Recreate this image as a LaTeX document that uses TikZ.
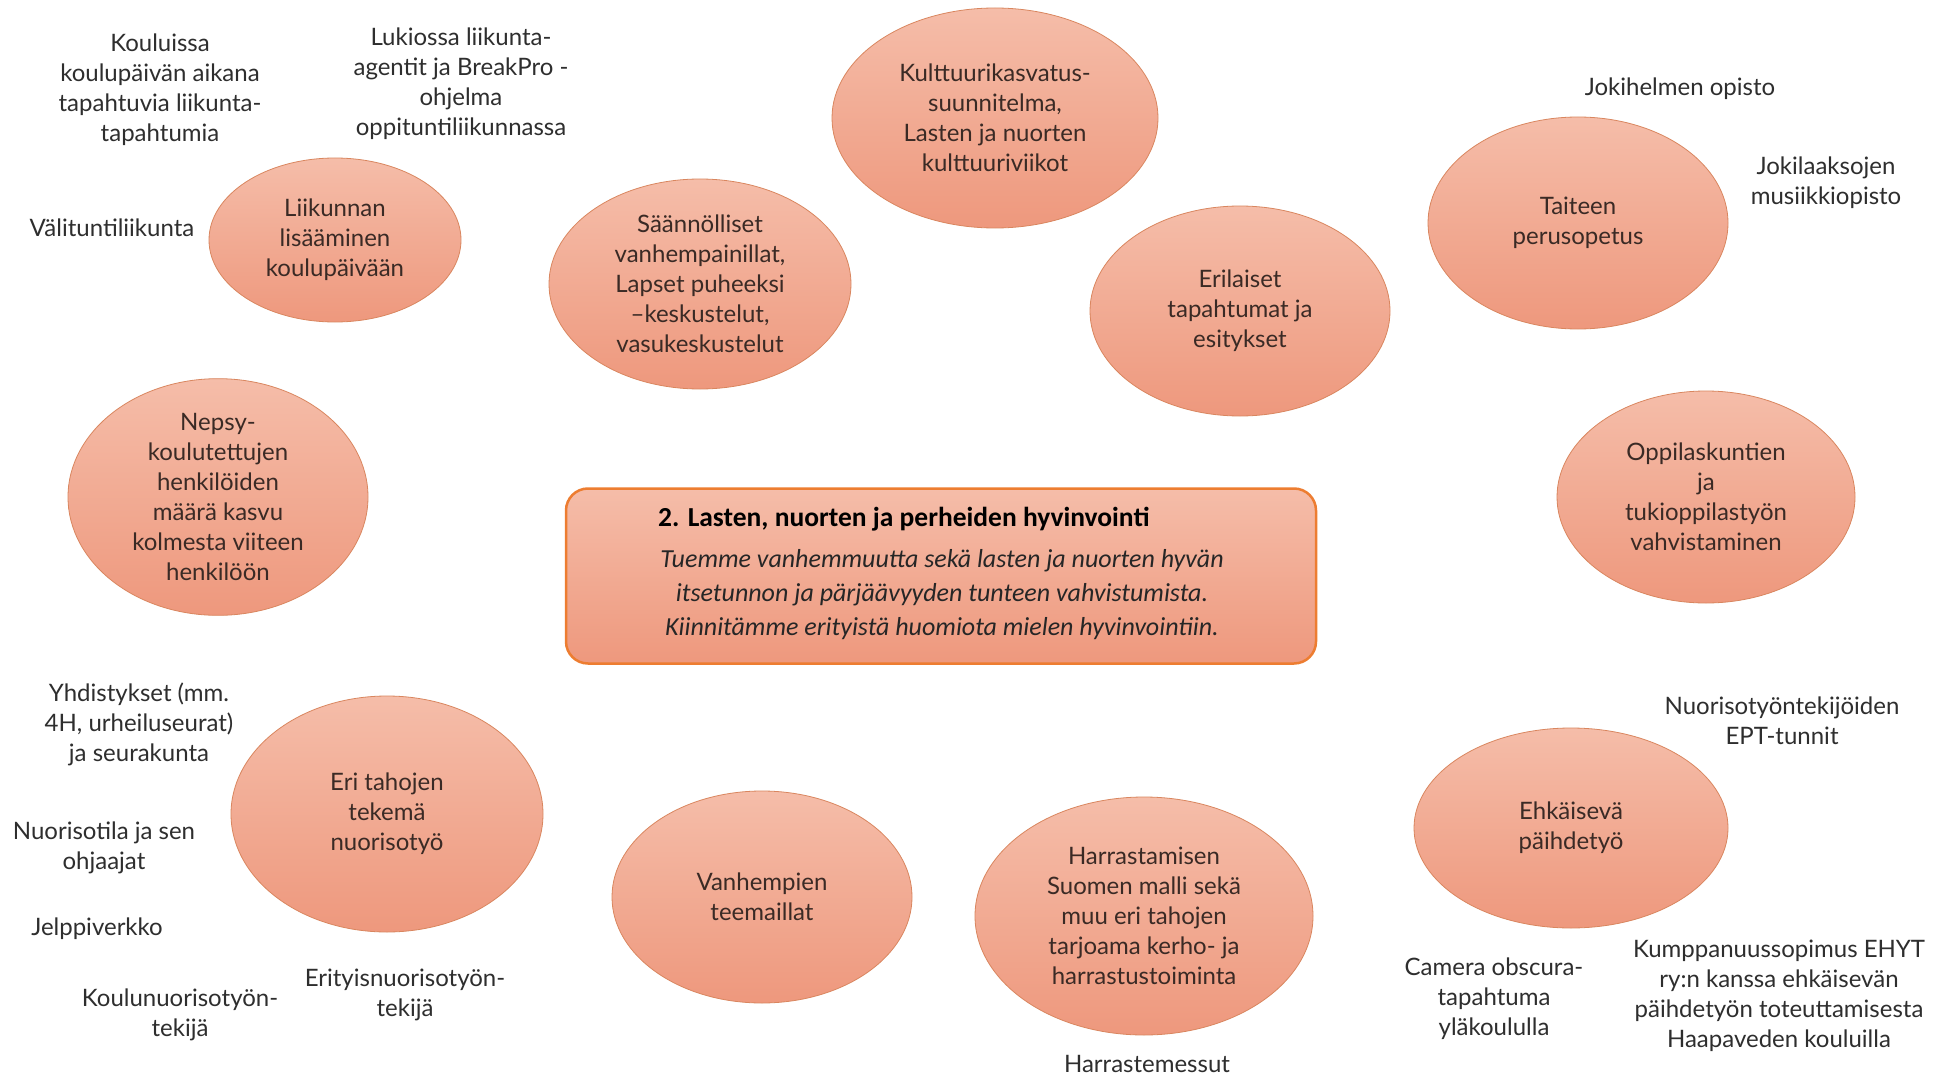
\documentclass[tikz,border=0pt]{standalone}
\usepackage{fontspec}
\setmainfont{Lato}
\newfontfamily\boxfont{Carlito}
\usetikzlibrary{shapes.geometric}
\definecolor{elltop}{HTML}{F5BDA9}
\definecolor{ellbot}{HTML}{EE987D}
\definecolor{ellline}{HTML}{D9865F}
\definecolor{elltext}{HTML}{3A2A25}
\definecolor{labtext}{HTML}{2E2E2E}
\definecolor{boxline}{HTML}{ED7D31}
\tikzset{
  bub/.style={ellipse, draw=ellline, line width=0.8pt, top color=elltop, bottom color=ellbot,
    inner sep=0pt, align=center, text=elltext, font=\fontsize{24}{30}\selectfont},
  lab/.style={align=center, text=labtext, font=\fontsize{24}{30}\selectfont, inner sep=0pt},
}
\begin{document}
\begin{tikzpicture}[x=1pt,y=-1pt]
\fill[white] (0,0) rectangle (1943,1078);
\useasboundingbox (0,0) rectangle (1943,1078);

% centre box
\node[draw=boxline, line width=2.5pt, rounded corners=22pt, top color=elltop, bottom color=ellbot,
  minimum width=750pt, minimum height=175pt, inner sep=0pt] (center) at (941,576) {};
\node[anchor=west, inner sep=0pt, font=\boxfont\bfseries\fontsize{27.5}{30}\selectfont, text=black] (title) at (658,519) {2. Lasten, nuorten ja perheiden hyvinvointi};
\node[align=center, inner sep=0pt, font=\boxfont\itshape\fontsize{26}{34}\selectfont, text=black!85] (desc) at (942,595)
 {Tuemme vanhemmuutta sekä lasten ja nuorten hyvän\\itsetunnon ja pärjäävyyden tunteen vahvistumista.\\Kiinnitämme erityistä huomiota mielen hyvinvointiin.};

% ellipses
\node[bub, minimum width=252pt, minimum height=164pt] (liik) at (335,240) {Liikunnan\\lisääminen\\koulupäivään};
\node[bub, minimum width=302pt, minimum height=210pt] (saan) at (700,284) {Säännölliset\\vanhempainillat,\\Lapset puheeksi\\–keskustelut,\\vasukeskustelut};
\node[bub, minimum width=326pt, minimum height=220pt] (kult) at (995,118) {Kulttuurikasvatus-\\suunnitelma,\\Lasten ja nuorten\\kulttuuriviikot};
\node[bub, minimum width=300pt, minimum height=210pt] (eril) at (1240,311) {Erilaiset\\tapahtumat ja\\esitykset};
\node[bub, minimum width=300pt, minimum height=212pt] (tait) at (1578,223) {Taiteen\\perusopetus};
\node[bub, minimum width=298pt, minimum height=212pt] (oppi) at (1706,497) {Oppilaskuntien\\ja\\tukioppilastyön\\vahvistaminen};
\node[bub, minimum width=300pt, minimum height=212pt] (neps) at (218,497) {Nepsy-\\koulutettujen\\henkilöiden\\määrä kasvu\\kolmesta viiteen\\henkilöön};
\node[bub, minimum width=312pt, minimum height=236pt] (erit) at (387,814) {Eri tahojen\\tekemä\\nuorisotyö};
\node[bub, minimum width=300pt, minimum height=212pt] (vanh) at (762,897) {Vanhempien\\teemaillat};
\node[bub, minimum width=338pt, minimum height=238pt] (harr) at (1144,916) {Harrastamisen\\Suomen malli sekä\\muu eri tahojen\\tarjoama kerho- ja\\harrastustoiminta};
\node[bub, minimum width=314pt, minimum height=200pt] (ehka) at (1571,828) {Ehkäisevä\\päihdetyö};

% free labels
\node[lab] (l1) at (160,90) {Kouluissa\\koulupäivän aikana\\tapahtuvia liikunta-\\tapahtumia};
\node[lab] (l2) at (461,84) {Lukiossa liikunta-\\agentit ja BreakPro -\\ohjelma\\oppituntiliikunnassa};
\node[lab] (l3) at (112,228) {Välituntiliikunta};
\node[lab] (l4) at (1680,89) {Jokihelmen opisto};
\node[lab] (l5) at (1826,183) {Jokilaaksojen\\musiikkiopisto};
\node[lab] (l6) at (139,724) {Yhdistykset (mm.\\4H, urheiluseurat)\\ja seurakunta};
\node[lab] (l7) at (104,848) {Nuorisotila ja sen\\ohjaajat};
\node[lab] (l8) at (97,929) {Jelppiverkko};
\node[lab] (l9) at (180,1015) {Koulunuorisotyön-\\tekijä};
\node[lab] (l10) at (405,995) {Erityisnuorisotyön-\\tekijä};
\node[lab] (l11) at (1147,1064) {Harrastemessut};
\node[lab] (l12) at (1494,999) {Camera obscura-\\tapahtuma\\yläkoululla};
\node[lab] (l13) at (1779,996) {Kumppanuussopimus EHYT\\ry:n kanssa ehkäisevän\\päihdetyön toteuttamisesta\\Haapaveden kouluilla};
\node[lab] (l14) at (1782,721) {Nuorisotyöntekijöiden\\EPT-tunnit};
\end{tikzpicture}
\end{document}
